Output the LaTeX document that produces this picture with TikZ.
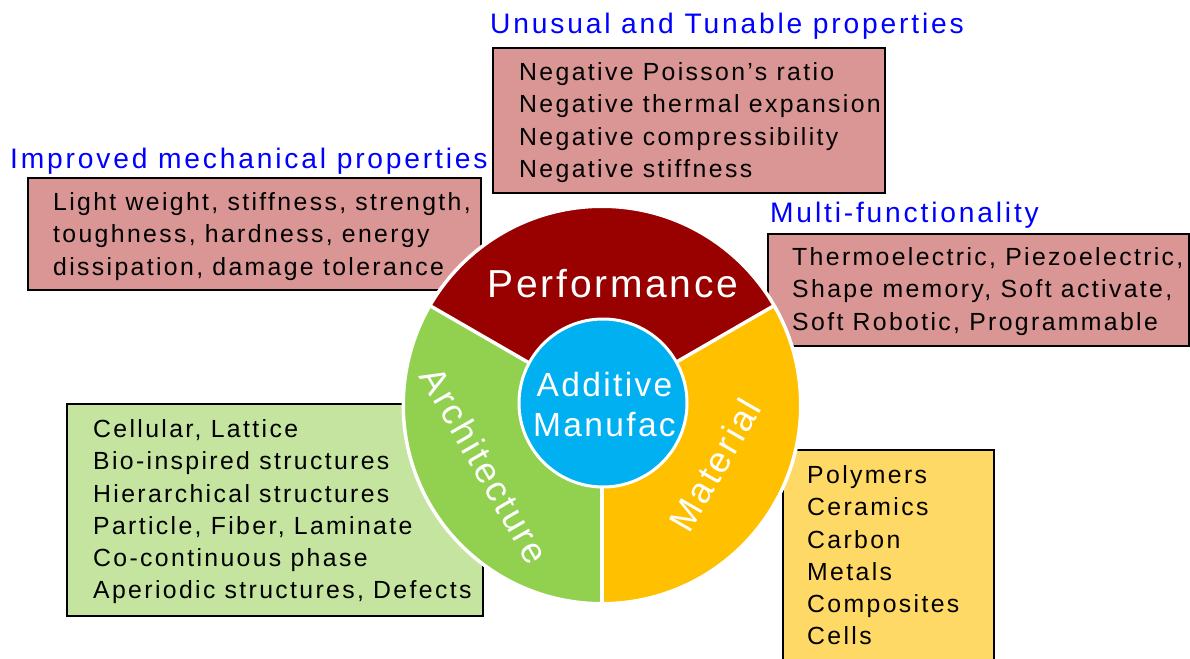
\documentclass[tikz,border=0pt]{standalone}
\usepackage{fontspec}
\setmainfont{Liberation Sans}
\newfontfamily\bodyfont[LetterSpace=9.5]{Liberation Sans}
\newfontfamily\titlefont[LetterSpace=10]{Liberation Sans}
\newfontfamily\ringfont[LetterSpace=7]{Liberation Sans}

\definecolor{perfred}{RGB}{153,0,0}
\definecolor{archgreen}{RGB}{146,208,80}
\definecolor{matyellow}{RGB}{255,192,0}
\definecolor{amcyan}{RGB}{0,176,240}
\definecolor{pinkfill}{RGB}{218,150,148}
\definecolor{greenfill}{RGB}{196,228,160}
\definecolor{yellowfill}{RGB}{255,217,102}
\definecolor{titleblue}{RGB}{0,0,255}

\tikzset{
  infobox/.style={draw=black, line width=1.8pt, inner sep=0pt, anchor=north west},
  bodytext/.style={font=\bodyfont\fontsize{24.8}{32.3}\selectfont, align=left,
    anchor=north west, inner sep=0pt},
  headline/.style={font=\titlefont\fontsize{28.2}{33}\selectfont, text=titleblue,
    anchor=base west, inner sep=0pt},
  ringlabel/.style={text=white, inner sep=0pt},
  divider/.style={white, line width=3.5pt},
}

\begin{document}
\begin{tikzpicture}[x=1pt,y=1pt]
\useasboundingbox (0,0) rectangle (1190,-658);
\clip (0,0) rectangle (1190,-658);

% ---------- property boxes ----------
\node[infobox, fill=pinkfill, minimum width=392, minimum height=145] (unusualbox) at (492,-47) {};
\node[bodytext] (unusualtext) at (519,-62.3)
  {Negative Poisson’s ratio\\Negative thermal expansion\\Negative compressibility\\Negative stiffness};
\node[headline] (unusualtitle) at (490,-34) {Unusual and Tunable properties};

\node[infobox, fill=pinkfill, minimum width=453, minimum height=112] (mechbox) at (27,-177) {};
\node[bodytext] (mechtext) at (53,-192.3)
  {Light weight, stiffness, strength,\\toughness, hardness, energy\\dissipation, damage tolerance};
\node[headline] (mechtitle) at (10,-168) {Improved mechanical properties};

\node[infobox, fill=pinkfill, minimum width=421, minimum height=112] (multibox) at (767,-233) {};
\node[bodytext] (multitext) at (792,-247.3)
  {Thermoelectric, Piezoelectric,\\Shape memory, Soft activate,\\Soft Robotic, Programmable};
\node[headline] (multititle) at (770,-222) {Multi-functionality};

\node[infobox, fill=greenfill, minimum width=416, minimum height=212] (archbox) at (66,-403) {};
\node[bodytext] (archtext) at (93,-419.3)
  {Cellular, Lattice\\Bio-inspired structures\\Hierarchical structures\\Particle, Fiber, Laminate\\Co-continuous phase\\Aperiodic structures, Defects};

\node[infobox, fill=yellowfill, minimum width=211, minimum height=260] (matbox) at (782,-449) {};
\node[bodytext] (mattext) at (807,-465.3)
  {Polymers\\Ceramics\\Carbon\\Metals\\Composites\\Cells};

% ---------- central ring ----------
\coordinate (hub) at (602,-405);
\fill[white] (hub) circle[radius=200.5];
\fill[perfred]   (hub) -- ++(30:198)  arc[start angle=30,  end angle=150, radius=198] -- cycle;
\fill[archgreen] (hub) -- ++(150:198) arc[start angle=150, end angle=270, radius=198] -- cycle;
\fill[matyellow] (hub) -- ++(270:198) arc[start angle=270, end angle=390, radius=198] -- cycle;
\draw[white, line width=3pt] (hub) circle[radius=198.5];
\draw[divider] (hub) -- ++(30:198);
\draw[divider] (hub) -- ++(150:198);
\draw[divider] (hub) -- ++(270:198);

\fill[amcyan, draw=white, line width=3pt] (603,-403) circle[radius=84];

\node[ringlabel, font=\ringfont\fontsize{39}{44}\selectfont, anchor=base] (perflabel) at (613,-297) {Performance};
\node[ringlabel, font=\ringfont\fontsize{33.5}{40}\selectfont, align=center] (amlabel) at (604.5,-405) {Additive\\Manufac};
\node[ringlabel, font=\ringfont\fontsize{36}{40}\selectfont, rotate=-60] (archlabel) at (485,-465) {Architecture};
\node[ringlabel, font=\ringfont\fontsize{36}{40}\selectfont, rotate=60] (matlabel) at (715,-465) {Material};
\end{tikzpicture}
\end{document}
